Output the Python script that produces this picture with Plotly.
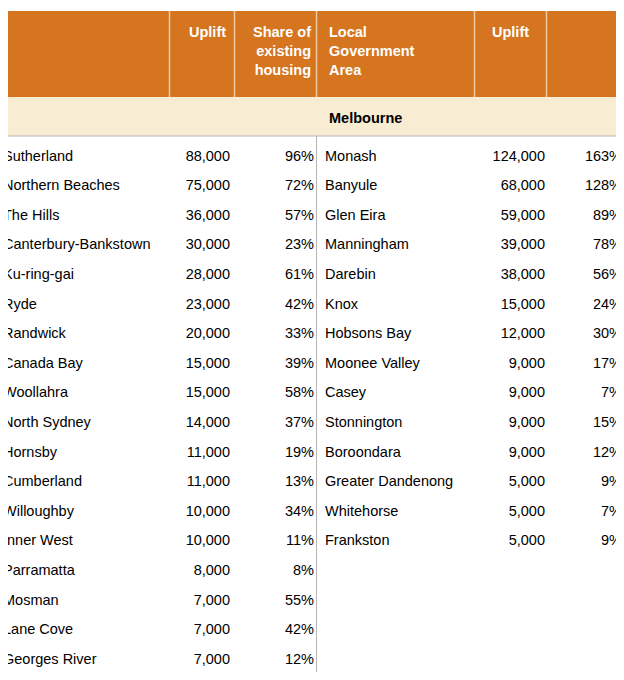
import plotly.graph_objects as go

# Sydney
syd_lga = ["Sutherland", "Northern Beaches", "The Hills", "Canterbury-Bankstown", "Ku-ring-gai",
           "Ryde", "Randwick", "Canada Bay", "Woollahra", "North Sydney", "Hornsby",
           "Cumberland", "Willoughby", "Inner West", "Parramatta", "Mosman", "Lane Cove",
           "Georges River"]
syd_uplift = [88000, 75000, 36000, 30000, 28000, 23000, 20000, 15000, 15000, 14000, 11000,
              11000, 10000, 10000, 8000, 7000, 7000, 7000]
syd_share = [96, 72, 57, 23, 61, 42, 33, 39, 58, 37, 19, 13, 34, 11, 8, 55, 42, 12]

# Melbourne
mel_lga = ["Monash", "Banyule", "Glen Eira", "Manningham", "Darebin", "Knox", "Hobsons Bay",
           "Moonee Valley", "Casey", "Stonnington", "Boroondara", "Greater Dandenong",
           "Whitehorse", "Frankston"]
mel_uplift = [124000, 68000, 59000, 39000, 38000, 15000, 12000, 9000, 9000, 9000, 9000,
              5000, 5000, 5000]
mel_share = [163, 128, 89, 78, 56, 24, 30, 17, 7, 15, 12, 9, 7, 9]

ORANGE = "#D5751F"
CREAM = "#F8EDD3"
FONT = "Liberation Sans, Arial, sans-serif"

ROW0, ROWH = 157, 29.6
W, H = 624, 680
PAD = 8  # page body margin; axis ranges keep reference pixel coordinates

fig = go.Figure()

def add_block(names, uplift, share, x_name, x_up, x_sh):
    ys = [ROW0 + ROWH * i for i in range(len(names))]
    fig.add_trace(go.Scatter(x=[x_name] * len(names), y=ys, text=names, mode="text",
                             textposition="middle right", hoverinfo="skip",
                             textfont=dict(size=14.5, color="black", family=FONT)))
    fig.add_trace(go.Scatter(x=[x_up] * len(names), y=ys, text=[f"{v:,}" for v in uplift],
                             mode="text", textposition="middle left", hoverinfo="skip",
                             textfont=dict(size=14.5, color="black", family=FONT)))
    fig.add_trace(go.Scatter(x=[x_sh] * len(names), y=ys, text=[f"{v}%" for v in share],
                             mode="text", textposition="middle left", hoverinfo="skip",
                             textfont=dict(size=14.5, color="black", family=FONT)))

add_block(syd_lga, syd_uplift, syd_share, 3, 230, 314)
add_block(mel_lga, mel_uplift, mel_share, 325, 545, 622)

shapes = [
    dict(type="rect", x0=0, x1=W, y0=11, y1=97, fillcolor=ORANGE, line_width=0, layer="below"),
    dict(type="rect", x0=0, x1=W, y0=97, y1=136, fillcolor=CREAM, line_width=0, layer="below"),
    dict(type="line", x0=0, x1=W, y0=136, y1=136, line=dict(color="#b5b5b5", width=1)),
    dict(type="line", x0=316.5, x1=316.5, y0=136, y1=H, line=dict(color="#b5b5b5", width=1)),
]
for xs in [169.5, 234.5, 316.5, 474.5, 546.5]:
    shapes.append(dict(type="line", x0=xs, x1=xs, y0=11, y1=97, line=dict(color="#f3c9a0", width=1.5)))

ann = []
def hdr(x, text, anchor):
    ann.append(dict(x=x, y=22, text=text, showarrow=False, xanchor=anchor, yanchor="top",
                    align=anchor, font=dict(size=14.5, color="white", family=FONT)))
hdr(5, "<b>Local<br>Government<br>Area</b>", "left")
hdr(228, "<b>Uplift</b>", "right")
hdr(313, "<b>Share of<br>existing<br>housing</b>", "right")
hdr(327, "<b>Local<br>Government<br>Area</b>", "left")
hdr(531, "<b>Uplift</b>", "right")
hdr(621, "<b>Share of<br>existing<br>housing</b>", "right")
for x, t in [(5, "Sydney"), (327, "Melbourne")]:
    ann.append(dict(x=x, y=118, text=f"<b>{t}</b>", showarrow=False, xanchor="left",
                    font=dict(size=14.5, color="black", family=FONT)))

fig.update_layout(
    width=W - 2 * PAD, height=H - 2 * PAD, margin=dict(l=0, r=0, t=0, b=0),
    plot_bgcolor="white", paper_bgcolor="white", showlegend=False,
    xaxis=dict(range=[PAD, W - PAD], visible=False, fixedrange=True),
    yaxis=dict(range=[H - PAD, PAD], visible=False, fixedrange=True),
    shapes=shapes, annotations=ann,
)
fig.write_html("out.html")
